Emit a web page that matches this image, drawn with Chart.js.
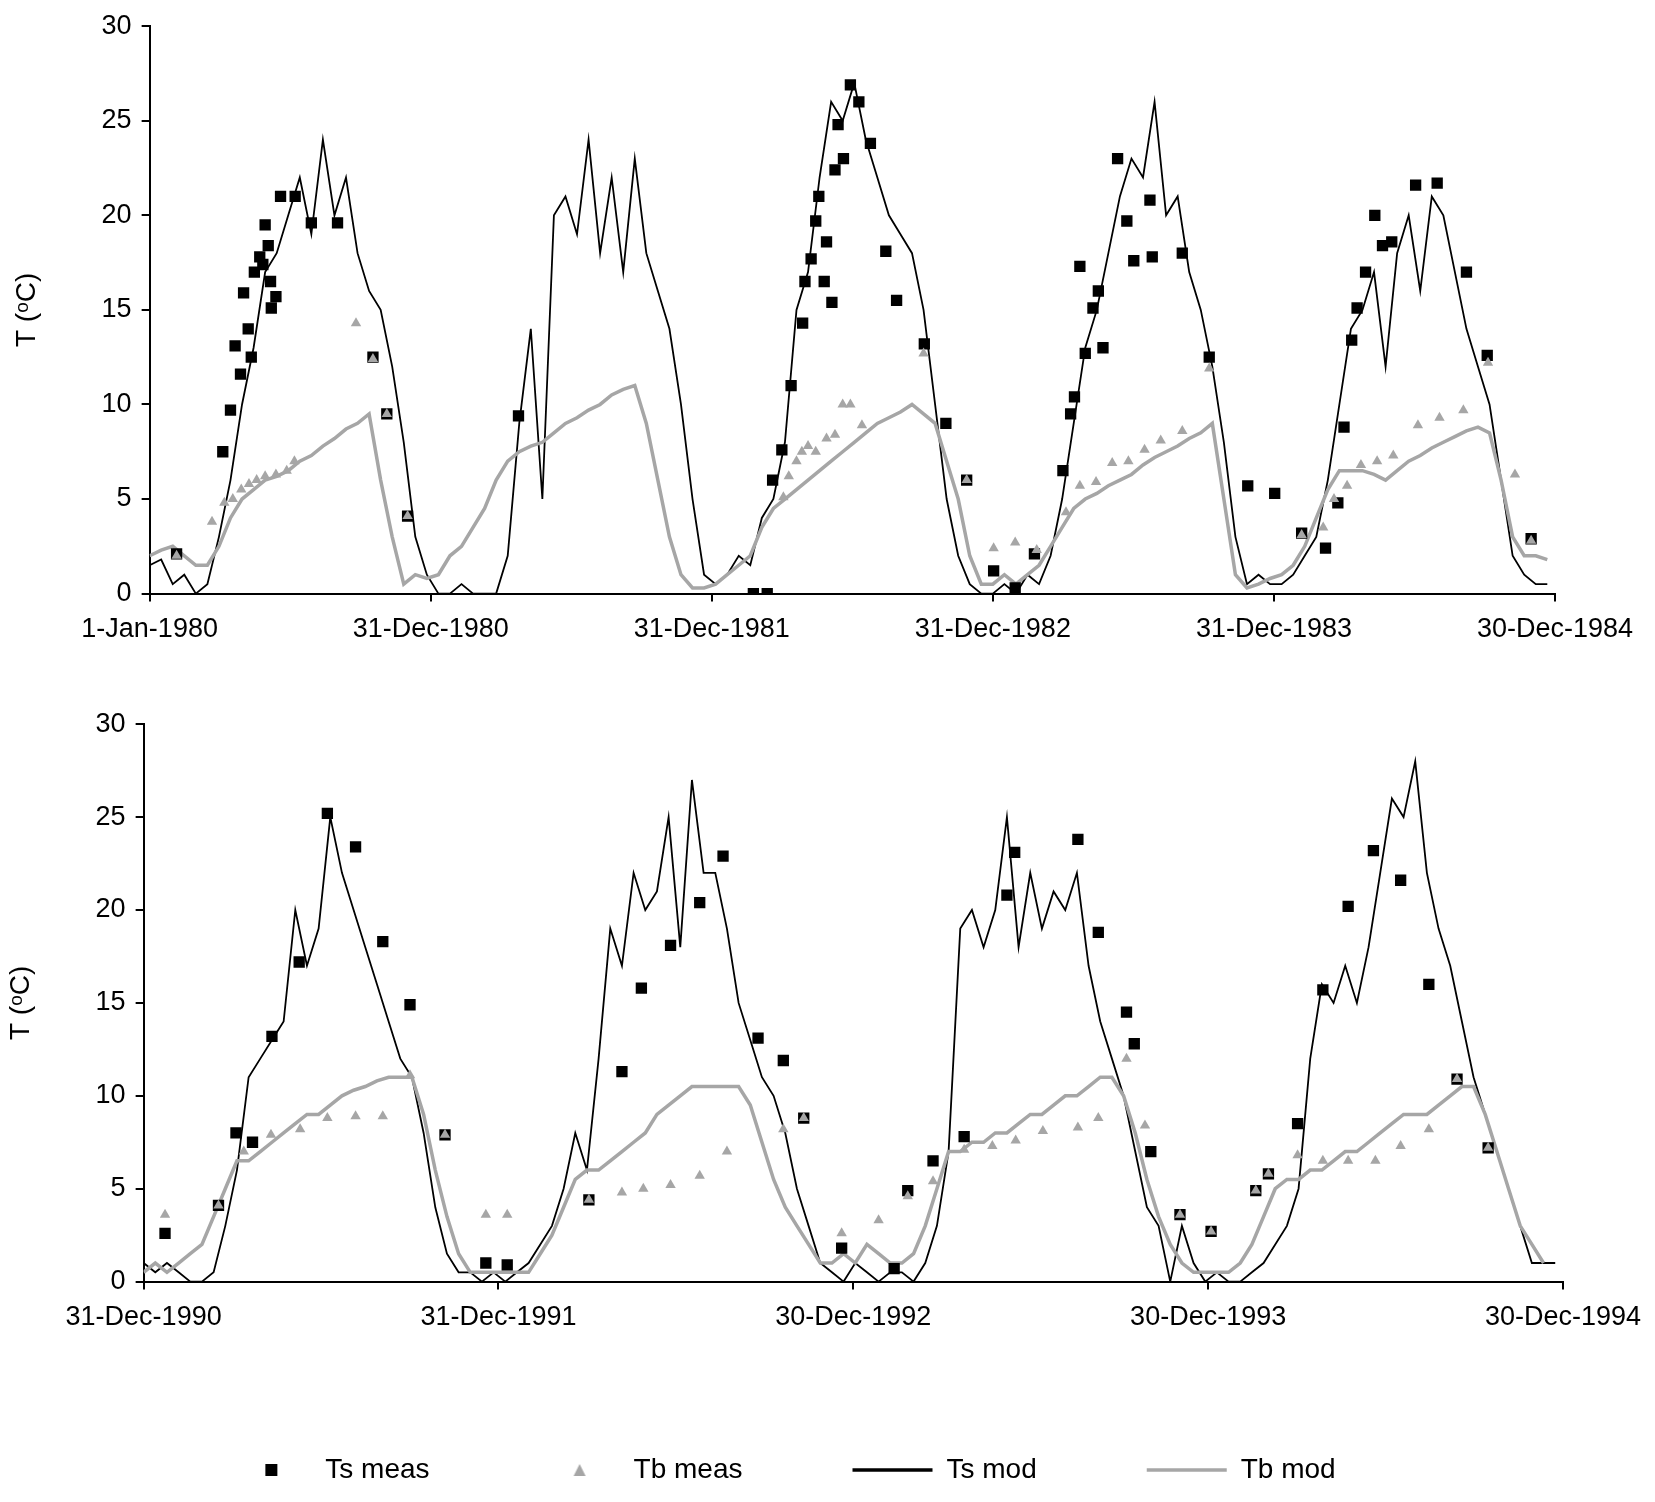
<!DOCTYPE html>
<html>
<head>
<meta charset="utf-8">
<script src="https://cdn.jsdelivr.net/npm/chart.js@4"></script>
<style>
  body { margin: 0; background: #fff; }
  .panel { position: absolute; left: 0; width: 1655px; }
  #top { top: 0; height: 688px; }
  #bottom { top: 698px; height: 804px; }
</style>
</head>
<body>
<div class="panel" id="top"><canvas id="c1"></canvas></div>
<div class="panel" id="bottom"><canvas id="c2"></canvas></div>
<script>
// modelled series are sampled every N days from the start of each panel
const TOP_STEP = 15
const BOTTOM_STEP = 12

const topTicks = ['1-Jan-1980', '31-Dec-1980', '31-Dec-1981', '31-Dec-1982', '31-Dec-1983', '30-Dec-1984']
const bottomTicks = ['31-Dec-1990', '31-Dec-1991', '30-Dec-1992', '30-Dec-1993', '30-Dec-1994']

const topTsMod = [
  1.5, 1.8, 0.5, 1, 0, 0.5, 3, 6, 10, 13, 17, 18, 20, 22, 19, 24, 20, 22, 18, 16, 15, 12, 8, 3, 1,
  0, 0, 0.5, 0, 0, 0, 2, 9, 14, 5, 20, 21, 19, 24, 18, 22, 17, 23, 18, 16, 14, 10, 5, 1,
  0.5, 1, 2, 1.5, 4, 5, 8, 15, 17, 22, 26, 25, 27, 24, 22, 20, 19, 18, 15, 10, 5, 2, 0.5, 0,
  0, 0.5, 0, 1, 0.5, 2, 5, 9, 13, 15, 18, 21, 23, 22, 26, 20, 21, 17, 15, 12, 8, 3, 0.5, 1, 0.5,
  0.5, 1, 2, 3, 6, 10, 14, 15, 17, 12, 18, 20, 16, 21, 20, 17, 14, 12, 10, 6, 2, 1, 0.5, 0.5
]
const topTbMod = [
  2, 2.3, 2.5, 2, 1.5, 1.5, 2.5, 4, 5, 5.5, 6, 6.2, 6.5, 7, 7.3, 7.8, 8.2, 8.7, 9, 9.5, 6, 3, 0.5, 1, 0.8,
  1, 2, 2.5, 3.5, 4.5, 6, 7, 7.5, 7.8, 8, 8.5, 9, 9.3, 9.7, 10, 10.5, 10.8, 11, 9, 6, 3, 1, 0.3, 0.3,
  0.5, 1, 1.5, 2, 3.5, 4.5, 5, 5.5, 6, 6.5, 7, 7.5, 8, 8.5, 9, 9.3, 9.6, 10, 9.5, 9, 7, 5, 2, 0.5,
  0.5, 1, 0.5, 1, 1.5, 2.5, 3.5, 4.5, 5, 5.3, 5.7, 6, 6.3, 6.8, 7.2, 7.5, 7.8, 8.2, 8.5, 9, 5, 1, 0.3, 0.5, 0.8,
  1, 1.5, 2.5, 4, 5.5, 6.5, 6.5, 6.5, 6.3, 6, 6.5, 7, 7.3, 7.7, 8, 8.3, 8.6, 8.8, 8.5, 6, 3, 2, 2, 1.8
]
// [day, value]
const topTsMeas = [
  [35, 2.1], [95, 7.5], [105, 9.7], [111, 13.1], [118, 11.6], [122, 15.9], [128, 14], [132, 12.5],
  [136, 17], [143, 17.8], [147, 17.4], [150, 19.5], [154, 18.4], [157, 16.5], [158, 15.1], [164, 15.7],
  [170, 21], [189, 21], [210, 19.6], [244, 19.6], [290, 12.5], [308, 9.5], [335, 4.1],
  [479, 9.4],
  [784, 0], [802, 0], [809, 6], [821, 7.6], [833, 11], [848, 14.3], [851, 16.5], [859, 17.7], [865, 19.7],
  [869, 21], [876, 16.5], [879, 18.6], [886, 15.4], [890, 22.4], [894, 24.8], [901, 23], [910, 26.9],
  [921, 26], [936, 23.8], [956, 18.1], [970, 15.5], [1006, 13.2], [1034, 9], [1061, 6], [1096, 1.2], [1124, 0.3],
  [1149, 2.1], [1186, 6.5], [1196, 9.5], [1201, 10.4], [1208, 17.3], [1215, 12.7], [1225, 15.1], [1232, 16],
  [1238, 13], [1257, 23], [1269, 19.7], [1278, 17.6], [1299, 20.8], [1302, 17.8], [1341, 18], [1376, 12.5],
  [1426, 5.7], [1461, 5.3],
  [1496, 3.2], [1527, 2.4], [1543, 4.8], [1551, 8.8], [1561, 13.4], [1568, 15.1], [1579, 17], [1591, 20],
  [1601, 18.4], [1613, 18.6], [1644, 21.6], [1672, 21.7], [1710, 17], [1737, 12.6], [1794, 2.9]
]
const topTbMeas = [
  [35, 2], [81, 3.8], [97, 4.8], [108, 5], [119, 5.5], [129, 5.8], [139, 6], [150, 6.2], [164, 6.3],
  [178, 6.5], [188, 7], [268, 14.3], [290, 12.4], [308, 9.5], [335, 4.1],
  [823, 5.1], [830, 6.2], [840, 7], [847, 7.5], [855, 7.8], [865, 7.5], [879, 8.2], [890, 8.4], [900, 10],
  [910, 10], [925, 8.9], [1005, 12.7], [1061, 6], [1096, 2.4], [1124, 2.7], [1152, 2.3],
  [1190, 4.3], [1208, 5.7], [1229, 5.9], [1250, 6.9], [1271, 7], [1292, 7.6], [1313, 8.1], [1341, 8.6], [1376, 11.9],
  [1496, 3.1], [1524, 3.5], [1538, 5], [1555, 5.7], [1573, 6.8], [1594, 7], [1615, 7.3], [1647, 8.9],
  [1675, 9.3], [1706, 9.7], [1738, 12.2], [1773, 6.3], [1794, 2.8]
]

const bottomTsMod = [
  1, 0.5, 1, 0.5, 0, 0, 0.5, 3, 6, 11, 12, 13, 14, 20, 17, 19, 25, 22, 20, 18, 16, 14, 12, 11, 8,
  4, 1.5, 0.5, 0.5, 0, 0.5, 0, 0.5, 1, 2, 3, 5, 8, 6, 12, 19, 17, 22, 20, 21, 25, 18, 27, 22,
  22, 19, 15, 13, 11, 10, 8, 5, 3, 1, 0.5, 0, 1, 0.5, 0, 0.5, 0.5, 0, 1, 3, 7, 19, 20, 18,
  20, 25, 18, 22, 19, 21, 20, 22, 17, 14, 12, 10, 7, 4, 3, 0, 3, 1, 0, 0.5, 0, 0, 0.5, 1, 2,
  3, 5, 12, 16, 15, 17, 15, 18, 22, 26, 25, 28, 22, 19, 17, 14, 11, 9, 7, 5, 3, 1, 1, 1
]
const bottomTbMod = [
  0.5, 1, 0.5, 1, 1.5, 2, 3.5, 5, 6.5, 6.5, 7, 7.5, 8, 8.5, 9, 9, 9.5, 10, 10.3, 10.5, 10.8, 11, 11, 11, 9,
  6, 3.5, 1.5, 0.5, 0.5, 0.5, 0.5, 0.5, 0.5, 1.5, 2.5, 4, 5.5, 6, 6, 6.5, 7, 7.5, 8, 9, 9.5, 10, 10.5,
  10.5, 10.5, 10.5, 10.5, 9.5, 7.5, 5.5, 4, 3, 2, 1, 1, 1.5, 1, 2, 1.5, 1, 1, 1.5, 3, 5, 7, 7, 7.5,
  7.5, 8, 8, 8.5, 9, 9, 9.5, 10, 10, 10.5, 11, 11, 10, 8, 5.5, 3.5, 2, 1, 0.5, 0.5, 0.5, 0.5, 1, 2, 3.5,
  5, 5.5, 5.5, 6, 6, 6.5, 7, 7, 7.5, 8, 8.5, 9, 9, 9, 9.5, 10, 10.5, 10.5, 9, 7, 5, 3, 2, 1
]
const bottomTsMeas = [
  [22, 2.6], [77, 4.1], [95, 8], [112, 7.5], [132, 13.2], [160, 17.2], [189, 25.2], [218, 23.4],
  [246, 18.3], [274, 14.9], [310, 7.9], [352, 1], [374, 0.9],
  [458, 4.4], [492, 11.3], [512, 15.8], [542, 18.1], [572, 20.4], [596, 22.9], [632, 13.1], [658, 11.9],
  [679, 8.8], [718, 1.8], [772, 0.7], [786, 4.9], [812, 6.5], [844, 7.8], [888, 20.8], [896, 23.1],
  [961, 23.8], [982, 18.8], [1011, 14.5], [1019, 12.8], [1036, 7], [1066, 3.6], [1098, 2.7],
  [1144, 4.9], [1157, 5.8], [1187, 8.5], [1213, 15.7], [1239, 20.2], [1265, 23.2], [1293, 21.6],
  [1322, 16], [1351, 10.9], [1383, 7.2]
]
const bottomTbMeas = [
  [22, 3.6], [77, 4.1], [103, 7], [131, 7.9], [161, 8.2], [189, 8.8], [218, 8.9], [246, 8.9], [274, 11.1],
  [310, 7.9], [352, 3.6], [374, 3.6], [458, 4.4], [492, 4.8], [514, 5], [542, 5.2], [572, 5.7], [600, 7],
  [658, 8.2], [679, 8.8], [718, 2.6], [756, 3.3], [786, 4.6], [812, 5.4], [844, 7.1], [873, 7.3],
  [897, 7.6], [925, 8.1], [961, 8.3], [982, 8.8], [1011, 12], [1030, 8.4], [1066, 3.6], [1098, 2.7],
  [1144, 4.9], [1157, 5.8], [1187, 6.8], [1213, 6.5], [1239, 6.5], [1267, 6.5], [1293, 7.3], [1322, 8.2],
  [1351, 10.9], [1383, 7.2]
]

const FONT = 'Liberation Sans, Arial, sans-serif'
const GREY = '#a6a6a6'

function series(vals, step) {
  return vals.map((v, i) => ({ x: i * step, y: v }))
}
function pairs(list) {
  return list.map(p => ({ x: p[0], y: p[1] }))
}

// small legend markers, so they keep their size next to the wide line samples
function markerSquare() {
  const c = document.createElement('canvas')
  c.width = 14; c.height = 14
  const g = c.getContext('2d')
  g.fillStyle = '#000'
  g.fillRect(1, 1, 12, 12)
  return c
}
function markerTriangle() {
  const c = document.createElement('canvas')
  c.width = 14; c.height = 14
  const g = c.getContext('2d')
  g.fillStyle = GREY
  g.beginPath(); g.moveTo(7, 1); g.lineTo(13, 13); g.lineTo(1, 13); g.closePath(); g.fill()
  return c
}
const legendMarks = [markerSquare(), markerTriangle(), 'line', 'line']

function buildChart(id, ticks, span, step, tsMod, tbMod, tsMeas, tbMeas, showLegend, padding) {
  const ctx = document.getElementById(id).getContext('2d')
  return new Chart(ctx, {
    type: 'scatter',
    data: {
      datasets: [
        { label: 'Ts meas', data: pairs(tsMeas), pointStyle: 'rect', pointRadius: 8,
          backgroundColor: '#000', borderColor: '#000', borderWidth: 0, order: 2 },
        { label: 'Tb meas', data: pairs(tbMeas), pointStyle: 'triangle', pointRadius: 6,
          backgroundColor: GREY, borderColor: GREY, borderWidth: 0, order: 1 },
        { label: 'Ts mod', type: 'line', data: series(tsMod, step), showLine: true, pointRadius: 0,
          borderColor: '#000', backgroundColor: '#000', borderWidth: 1.8, tension: 0, order: 4 },
        { label: 'Tb mod', type: 'line', data: series(tbMod, step), showLine: true, pointRadius: 0,
          borderColor: GREY, backgroundColor: GREY, borderWidth: 3.5, tension: 0, order: 3 }
      ]
    },
    options: {
      responsive: true,
      maintainAspectRatio: false,
      animation: false,
      layout: { padding: padding },
      plugins: {
        tooltip: { enabled: false },
        legend: {
          display: showLegend,
          position: 'bottom',
          labels: {
            usePointStyle: true,
            pointStyleWidth: 80,
            padding: 110,
            color: '#000',
            font: { family: FONT, size: 28 },
            generateLabels(chart) {
              return chart.data.datasets.map((ds, i) => ({
                text: ds.label,
                fillStyle: ds.backgroundColor,
                strokeStyle: ds.borderColor,
                lineWidth: ds.type === 'line' ? 3.5 : 0,
                pointStyle: legendMarks[i],
                datasetIndex: i,
                fontColor: '#000'
              }))
            }
          }
        }
      },
      scales: {
        x: {
          type: 'linear', min: 0, max: span,
          border: { color: '#000', width: 2 },
          grid: { drawOnChartArea: false, drawTicks: true, tickLength: 8, color: '#000', lineWidth: 2 },
          ticks: {
            stepSize: 365, autoSkip: false, maxRotation: 0, padding: 12,
            color: '#000', font: { family: FONT, size: 27 },
            callback: v => ticks[Math.round(v / 365)]
          }
        },
        y: {
          min: 0, max: 30,
          border: { color: '#000', width: 2 },
          grid: { drawOnChartArea: false, drawTicks: true, tickLength: 8, color: '#000', lineWidth: 2 },
          title: { display: true, text: 'T (\u1d52C)', color: '#000', font: { family: FONT, size: 28 },
            padding: { top: 0, bottom: 48 } },
          ticks: { stepSize: 5, padding: 10, color: '#000', font: { family: FONT, size: 27 } }
        }
      }
    }
  })
}

buildChart('c1', topTicks, 1825, TOP_STEP, topTsMod, topTbMod, topTsMeas, topTbMeas, false,
  { left: 10, right: 100, top: 0, bottom: 30 })
buildChart('c2', bottomTicks, 1460, BOTTOM_STEP, bottomTsMod, bottomTbMod, bottomTsMeas, bottomTbMeas, true,
  { left: 4, right: 92, top: 0, bottom: 8 })
</script>
</body>
</html>
